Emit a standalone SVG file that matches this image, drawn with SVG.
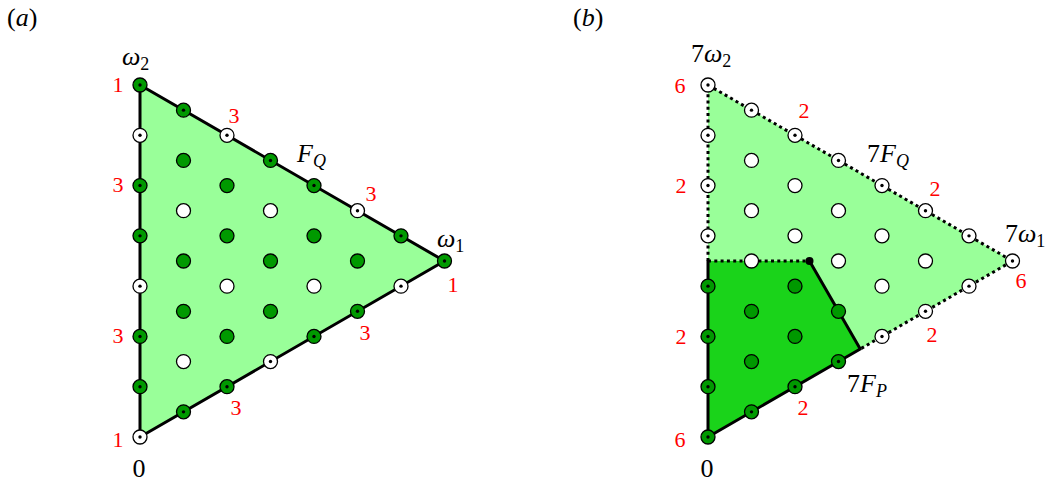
<svg xmlns="http://www.w3.org/2000/svg" width="1054" height="484" viewBox="0 0 1054 484">
<style>
.big{font-size:26px}
.sub{font-size:18px}
.it{font-style:italic}
.red{font-size:22px;fill:#ff0000;text-anchor:middle}
.solid{fill:none;stroke:#000;stroke-width:3;stroke-linejoin:round;stroke-linecap:round}
.dot{fill:none;stroke:#000;stroke-width:3;stroke-dasharray:3 3.3}
.g{fill:#009900;stroke:#000;stroke-width:1.3}
.w{fill:#ffffff;stroke:#000;stroke-width:1.3}
</style>
<defs>
<circle id="G" class="g" r="7"/>
<circle id="W" class="w" r="7"/>
<g id="GD"><circle class="g" r="7"/><circle r="1.7" fill="#000"/></g>
<g id="WD"><circle class="w" r="7"/><circle r="1.7" fill="#000"/></g>
</defs>

<g id="panel-a">
<polygon points="140,85 444.5,261 140,437" fill="#99ff99"/>
<g id="connectors-a">
<polygon class="solid" points="140,85 444.5,261 140,437"/>
</g>
<g id="nodes-a">
<use href="#WD" x="140" y="437"/>
<use href="#GD" x="140" y="386.71"/>
<use href="#GD" x="140" y="336.43"/>
<use href="#WD" x="140" y="286.14"/>
<use href="#GD" x="140" y="235.86"/>
<use href="#GD" x="140" y="185.57"/>
<use href="#WD" x="140" y="135.29"/>
<use href="#GD" x="140" y="85"/>

<use href="#GD" x="183.5" y="411.86"/>
<use href="#W" x="183.5" y="361.57"/>
<use href="#G" x="183.5" y="311.29"/>
<use href="#G" x="183.5" y="261"/>
<use href="#W" x="183.5" y="210.71"/>
<use href="#G" x="183.5" y="160.43"/>
<use href="#GD" x="183.5" y="110.14"/>

<use href="#GD" x="227" y="386.71"/>
<use href="#G" x="227" y="336.43"/>
<use href="#W" x="227" y="286.14"/>
<use href="#G" x="227" y="235.86"/>
<use href="#G" x="227" y="185.57"/>
<use href="#WD" x="227" y="135.29"/>

<use href="#WD" x="270.5" y="361.57"/>
<use href="#G" x="270.5" y="311.29"/>
<use href="#G" x="270.5" y="261"/>
<use href="#W" x="270.5" y="210.71"/>
<use href="#GD" x="270.5" y="160.43"/>

<use href="#GD" x="314" y="336.43"/>
<use href="#W" x="314" y="286.14"/>
<use href="#G" x="314" y="235.86"/>
<use href="#GD" x="314" y="185.57"/>

<use href="#GD" x="357.5" y="311.29"/>
<use href="#G" x="357.5" y="261"/>
<use href="#WD" x="357.5" y="210.71"/>

<use href="#WD" x="401" y="286.14"/>
<use href="#GD" x="401" y="235.86"/>

<use href="#GD" x="444.5" y="261"/>
</g>
<g id="labels-a" font-family="'Liberation Serif', 'DejaVu Serif', serif">
<text class="big" x="7" y="26">(<tspan class="it">a</tspan>)</text>
<text class="big" x="122" y="65"><tspan class="it">ω</tspan><tspan class="sub" dy="5">2</tspan></text>
<text class="big" x="297" y="162"><tspan class="it">F</tspan><tspan class="sub it" dy="5">Q</tspan></text>
<text class="big" x="437" y="247"><tspan class="it">ω</tspan><tspan class="sub" dy="5">1</tspan></text>
<text class="big" x="139" y="477" text-anchor="middle">0</text>
<text class="red" x="118" y="92">1</text>
<text class="red" x="118" y="192">3</text>
<text class="red" x="118" y="343">3</text>
<text class="red" x="118" y="447">1</text>
<text class="red" x="234" y="123">3</text>
<text class="red" x="371" y="201">3</text>
<text class="red" x="453" y="292">1</text>
<text class="red" x="365" y="340">3</text>
<text class="red" x="236" y="415">3</text>
</g>
</g>

<g id="panel-b">
<polygon points="708,85 1012.5,261 708,437" fill="#99ff99"/>
<polygon points="708,437 860.25,349 809.5,261 708,261" fill="#1ad31a"/>
<g id="connectors-b">
<polyline class="dot" points="708,261 708,85 1012.5,261 860.25,349"/>
<line class="dot" x1="708" y1="261" x2="809.5" y2="261"/>
<polyline class="solid" points="809.5,261 860.25,349 708,437 708,261"/>
</g>
<g id="nodes-b">
<use href="#GD" x="708" y="437"/>
<use href="#GD" x="708" y="386.71"/>
<use href="#GD" x="708" y="336.43"/>
<use href="#GD" x="708" y="286.14"/>
<use href="#WD" x="708" y="235.86"/>
<use href="#WD" x="708" y="185.57"/>
<use href="#WD" x="708" y="135.29"/>
<use href="#WD" x="708" y="85"/>

<use href="#GD" x="751.5" y="411.86"/>
<use href="#G" x="751.5" y="361.57"/>
<use href="#G" x="751.5" y="311.29"/>
<use href="#W" x="751.5" y="261"/>
<use href="#W" x="751.5" y="210.71"/>
<use href="#W" x="751.5" y="160.43"/>
<use href="#WD" x="751.5" y="110.14"/>

<use href="#GD" x="795" y="386.71"/>
<use href="#G" x="795" y="336.43"/>
<use href="#G" x="795" y="286.14"/>
<use href="#W" x="795" y="235.86"/>
<use href="#W" x="795" y="185.57"/>
<use href="#WD" x="795" y="135.29"/>

<use href="#GD" x="838.5" y="361.57"/>
<use href="#G" x="838.5" y="311.29"/>
<use href="#W" x="838.5" y="261"/>
<use href="#W" x="838.5" y="210.71"/>
<use href="#WD" x="838.5" y="160.43"/>

<use href="#WD" x="882" y="336.43"/>
<use href="#W" x="882" y="286.14"/>
<use href="#W" x="882" y="235.86"/>
<use href="#WD" x="882" y="185.57"/>

<use href="#WD" x="925.5" y="311.29"/>
<use href="#W" x="925.5" y="261"/>
<use href="#WD" x="925.5" y="210.71"/>

<use href="#WD" x="969" y="286.14"/>
<use href="#WD" x="969" y="235.86"/>

<use href="#WD" x="1012.5" y="261"/>
<circle cx="809.5" cy="261" r="4" fill="#000"/>
</g>
<g id="labels-b" font-family="'Liberation Serif', 'DejaVu Serif', serif">
<text class="big" x="573" y="26">(<tspan class="it">b</tspan>)</text>
<text class="big" x="691" y="62">7<tspan class="it">ω</tspan><tspan class="sub" dy="5">2</tspan></text>
<text class="big" x="867" y="162">7<tspan class="it">F</tspan><tspan class="sub it" dy="5">Q</tspan></text>
<text class="big" x="1005" y="242">7<tspan class="it">ω</tspan><tspan class="sub" dy="5">1</tspan></text>
<text class="big" x="847" y="392">7<tspan class="it">F</tspan><tspan class="sub it" dy="5">P</tspan></text>
<text class="big" x="707" y="477" text-anchor="middle">0</text>
<text class="red" x="680" y="93">6</text>
<text class="red" x="681" y="193">2</text>
<text class="red" x="681" y="344">2</text>
<text class="red" x="680" y="447">6</text>
<text class="red" x="804" y="118">2</text>
<text class="red" x="935" y="196">2</text>
<text class="red" x="1021" y="288">6</text>
<text class="red" x="932" y="342">2</text>
<text class="red" x="803" y="415">2</text>
</g>
</g>
</svg>
